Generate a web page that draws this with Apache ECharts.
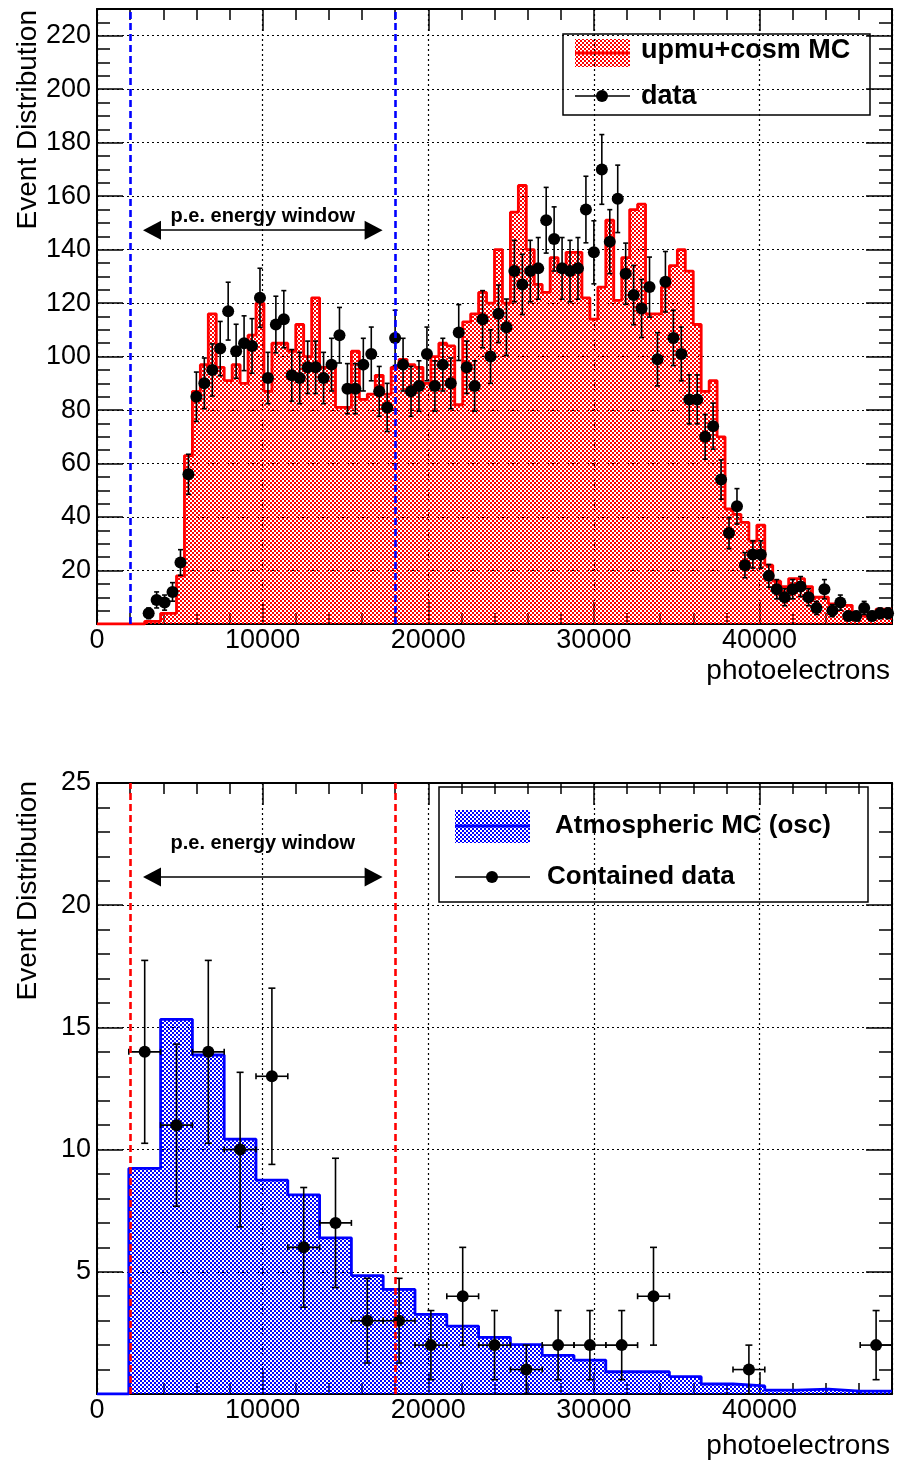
<!DOCTYPE html>
<html>
<head>
<meta charset="utf-8">
<script src="https://cdn.jsdelivr.net/npm/echarts@6/dist/echarts.min.js"></script>
<style>
html,body{margin:0;padding:0;background:#fff;}
#c{width:897px;height:1465px;}
</style>
</head>
<body>
<div id="c"></div>
<script>
// ---------------- data ----------------
const xMax = 48000;
const xTickLabels = [0, 10000, 20000, 30000, 40000];
const topYTickLabels = [20, 40, 60, 80, 100, 120, 140, 160, 180, 200, 220];
const botYTickLabels = [5, 10, 15, 20, 25];

// top panel: 100 bins of 480 p.e.
const mcTop = [
  0, 0, 0, 0, 0, 0, 1, 1, 4, 4,
  18, 63, 87, 97, 116, 96, 91, 97, 90, 108,
  120, 87, 105, 105, 102, 112, 100, 122, 96, 96,
  81, 81, 102, 84, 86, 93, 86, 96, 99, 97,
  96, 90, 100, 105, 104, 82, 113, 116, 124, 120,
  140, 120, 154, 164, 140, 127, 124, 137, 132, 139,
  139, 122, 114, 126, 151, 121, 137, 155, 157, 116,
  116, 126, 134, 140, 132, 112, 87, 91, 70, 43,
  41, 38, 31, 37, 22, 16, 14, 17, 17, 14,
  10, 10, 7.5, 7, 7, 3, 3, 3, 5.6, 5.6
];
const dataTop = [
  null, null, null, null, null, null, 4, 9, 8, 12,
  23, 56, 85, 90, 95, 103, 117, 102, 105, 104,
  122, 92, 112, 114, 93, 92, 96, 96, 92, 97,
  108, 88, 88, 97, 101, 87, 81, 107, 97, 87,
  89, 101, 89, 97, 90, 109, 96, 89, 114, 100,
  116, 111, 132, 127, 132, 133, 151, 144, 133, 132,
  133, 155, 139, 170, 143, 159, 131, 123, 118, 126,
  99, 128, 107, 101, 84, 84, 70, 74, 54, 34,
  44, 22, 26, 26, 18, 13, 10, 13, 14, 10,
  6, 13, 5, 8, 3, 3, 6, 3, 4, 4
];

// bottom panel: 25 bins of 1920 p.e.
const mcBot = [
  0, 9.23, 15.33, 13.87, 10.43, 8.75, 8.15, 6.39, 4.84, 4.28,
  3.26, 2.78, 2.32, 2.02, 1.58, 1.39, 0.91, 0.91, 0.71, 0.41,
  0.33, 0.16, 0.2, 0.12, 0.12
];
const dataBot = [
  null, 14, 11, 14, 10, 13, 6, 7, 3, 3,
  2, 4, 2, 1, 2, 2, 2, 4, null, null,
  1, null, null, null, 2
];

const windowEdges = [2000, 18000];
const windowLabel = 'p.e. energy window';
const topLegend = ['upmu+cosm MC', 'data'];
const botLegend = ['Atmospheric MC (osc)', 'Contained data'];
const yTitle = 'Event Distribution';
const xTitle = 'photoelectrons';

// arrow (annotation) in data units
const arrowXTop = [3320, 16700], arrowYTop = 147.3;
const arrowXBot = [3320, 16700], arrowYBot = 21.15;

// ---------------- helpers ----------------
const FONT = '"Liberation Sans", Arial, Helvetica, sans-serif';

function checker(color, cell) {
  const c = document.createElement('canvas');
  c.width = cell * 2; c.height = cell * 2;
  const g = c.getContext('2d');
  g.fillStyle = color;
  g.fillRect(0, 0, cell, cell);
  g.fillRect(cell, cell, cell, cell);
  return c;
}
const redPat = {image: checker('#ff0000', 2), repeat: 'repeat'};
const bluePat = {image: checker('#0000ff', 2), repeat: 'repeat'};

function histPoints(vals) {
  const w = xMax / vals.length;
  const pts = vals.map((v, i) => [i * w, v]);
  pts.push([xMax, vals[vals.length - 1]]);
  return pts;
}
function dataPoints(vals) {
  const w = xMax / vals.length;
  const out = [];
  vals.forEach((v, i) => { if (v !== null) out.push([i * w + w / 2, v]); });
  return out;
}
function errPoints(vals, withX) {
  const w = xMax / vals.length;
  const out = [];
  vals.forEach((v, i) => { if (v !== null) out.push([i * w + w / 2, v, Math.sqrt(v), withX ? w / 2 : 0]); });
  return out;
}
function errRender(capW, tickH) {
  return function (params, api) {
    const x = api.value(0), y = api.value(1), e = api.value(2), hw = api.value(3);
    const c = api.coord([x, y]);
    const lo = api.coord([x, Math.max(y - e, 0)]);
    const hi = api.coord([x, y + e]);
    const st = {stroke: '#000', lineWidth: 1.6};
    const ch = [
      {type: 'line', shape: {x1: c[0], y1: lo[1], x2: c[0], y2: hi[1]}, style: st},
      {type: 'line', shape: {x1: c[0] - capW, y1: lo[1], x2: c[0] + capW, y2: lo[1]}, style: st},
      {type: 'line', shape: {x1: c[0] - capW, y1: hi[1], x2: c[0] + capW, y2: hi[1]}, style: st}
    ];
    if (hw > 0) {
      const l = api.coord([x - hw, y]), r = api.coord([x + hw, y]);
      ch.push({type: 'line', shape: {x1: l[0], y1: c[1], x2: r[0], y2: c[1]}, style: st});
      ch.push({type: 'line', shape: {x1: l[0], y1: c[1] - tickH, x2: l[0], y2: c[1] + tickH}, style: st});
      ch.push({type: 'line', shape: {x1: r[0], y1: c[1] - tickH, x2: r[0], y2: c[1] + tickH}, style: st});
    }
    return {type: 'group', children: ch};
  };
}

function mkX(grid, pos, main) {
  return {
    type: 'value', gridIndex: grid, position: pos, min: 0, max: xMax, interval: 10000,
    axisLine: {show: true, onZero: false, lineStyle: {color: '#000', width: 2}},
    axisTick: {show: true, inside: true, length: 22, lineStyle: {color: '#000', width: 1.5}},
    minorTick: {show: true, splitNumber: 5, length: 11, lineStyle: {color: '#000', width: 1.5}},
    splitLine: {show: main, lineStyle: {color: '#000', type: [2, 3], width: 1.2}},
    minorSplitLine: {show: false},
    axisLabel: {
      show: main, color: '#000', fontSize: 27, fontFamily: FONT, margin: 3,
      formatter: v => (xTickLabels.indexOf(v) >= 0 ? String(v) : '')
    }
  };
}
function mkY(grid, pos, main, max, interval, split, labels) {
  return {
    type: 'value', gridIndex: grid, position: pos, min: 0, max: max, interval: interval,
    axisLine: {show: true, onZero: false, lineStyle: {color: '#000', width: 2}},
    axisTick: {show: true, inside: true, length: 26, lineStyle: {color: '#000', width: 1.5}},
    minorTick: {show: true, splitNumber: split, length: 13, lineStyle: {color: '#000', width: 1.5}},
    splitLine: {show: main, lineStyle: {color: '#000', type: [2, 3], width: 1.2}},
    minorSplitLine: {show: false},
    axisLabel: {
      show: main, color: '#000', fontSize: 27, fontFamily: FONT, margin: 6,
      formatter: v => (labels.indexOf(v) >= 0 ? String(v) : '')
    }
  };
}

function windowLines(color) {
  return {
    silent: true, animation: false, symbol: 'none',
    lineStyle: {color: color, type: [7, 4], width: 2.6, opacity: 1},
    label: {show: false},
    emphasis: {disabled: true},
    data: windowEdges.map(e => ({xAxis: e}))
  };
}
function arrowLine(xs, y, dist) {
  return {
    silent: true, animation: false, symbol: ['triangle', 'triangle'], symbolSize: [19, 18],
    itemStyle: {color: '#000'},
    lineStyle: {color: '#000', width: 1.6, type: 'solid', opacity: 1},
    label: {
      show: true, position: 'insideMiddleTop', distance: dist, formatter: windowLabel,
      fontSize: 20, fontWeight: 'bold', fontFamily: FONT, color: '#000'
    },
    emphasis: {disabled: true},
    data: [[{coord: [xs[0], y]}, {coord: [xs[1], y]}]]
  };
}

// ---------------- chart ----------------
const chart = echarts.init(document.getElementById('c'), null, {renderer: 'canvas'});

const option = {
  animation: false,
  backgroundColor: '#fff',
  textStyle: {fontFamily: FONT},
  grid: [
    {left: 97, top: 9, width: 795, height: 615},
    {left: 97, top: 783, width: 795, height: 611}
  ],
  xAxis: [mkX(0, 'bottom', true), mkX(1, 'bottom', true), mkX(0, 'top', false), mkX(1, 'top', false)],
  yAxis: [
    mkY(0, 'left', true, 230, 20, 4, topYTickLabels),
    mkY(1, 'left', true, 25, 5, 5, botYTickLabels),
    mkY(0, 'right', false, 230, 20, 4, topYTickLabels),
    mkY(1, 'right', false, 25, 5, 5, botYTickLabels)
  ],
  series: [
    {
      name: topLegend[0], type: 'line', xAxisIndex: 0, yAxisIndex: 0, step: 'end', symbol: 'none',
      data: histPoints(mcTop), z: 2,
      lineStyle: {color: '#ff0000', width: 2.8, opacity: 1},
      areaStyle: {color: redPat, opacity: 1},
      markLine: windowLines('#0000ff')
    },
    {
      type: 'custom', xAxisIndex: 0, yAxisIndex: 0, z: 3,
      data: errPoints(dataTop, false), renderItem: errRender(2.5, 0)
    },
    {
      name: topLegend[1], type: 'scatter', xAxisIndex: 0, yAxisIndex: 0, z: 4,
      symbol: 'circle', symbolSize: 12, itemStyle: {color: '#000', opacity: 1},
      data: dataPoints(dataTop),
      markLine: arrowLine(arrowXTop, arrowYTop, 4)
    },
    {
      name: botLegend[0], type: 'line', xAxisIndex: 1, yAxisIndex: 1, step: 'end', symbol: 'none',
      data: histPoints(mcBot), z: 2,
      lineStyle: {color: '#0000ff', width: 2.8, opacity: 1},
      areaStyle: {color: bluePat, opacity: 1},
      markLine: windowLines('#ff0000')
    },
    {
      type: 'custom', xAxisIndex: 1, yAxisIndex: 1, z: 3,
      data: errPoints(dataBot, true), renderItem: errRender(3.5, 3)
    },
    {
      name: botLegend[1], type: 'scatter', xAxisIndex: 1, yAxisIndex: 1, z: 4,
      symbol: 'circle', symbolSize: 12, itemStyle: {color: '#000', opacity: 1},
      data: dataPoints(dataBot),
      markLine: arrowLine(arrowXBot, arrowYBot, 24)
    }
  ],
  graphic: [
    // axis titles
    {type: 'text', x: 28, y: 10, rotation: Math.PI / 2,
     style: {text: yTitle, fontSize: 28, fontFamily: FONT, fill: '#000', align: 'right', verticalAlign: 'middle'}},
    {type: 'text', x: 28, y: 781, rotation: Math.PI / 2,
     style: {text: yTitle, fontSize: 28, fontFamily: FONT, fill: '#000', align: 'right', verticalAlign: 'middle'}},
    {type: 'text', x: 890, y: 671,
     style: {text: xTitle, fontSize: 28, fontFamily: FONT, fill: '#000', align: 'right', verticalAlign: 'middle'}},
    {type: 'text', x: 890, y: 1446,
     style: {text: xTitle, fontSize: 28, fontFamily: FONT, fill: '#000', align: 'right', verticalAlign: 'middle'}},
    // top legend
    {type: 'group', z: 100, children: [
      {type: 'rect', shape: {x: 563, y: 34, width: 307, height: 81}, style: {fill: '#fff', stroke: '#000', lineWidth: 1.5}},
      {type: 'rect', shape: {x: 575, y: 39, width: 55, height: 28}, style: {fill: redPat}},
      {type: 'line', shape: {x1: 575, y1: 53, x2: 630, y2: 53}, style: {stroke: '#ff0000', lineWidth: 3}},
      {type: 'text', x: 641, y: 51, style: {text: topLegend[0], fontSize: 27, fontWeight: 'bold', fontFamily: FONT, fill: '#000', verticalAlign: 'middle'}},
      {type: 'line', shape: {x1: 575, y1: 96, x2: 630, y2: 96}, style: {stroke: '#000', lineWidth: 1.5}},
      {type: 'circle', shape: {cx: 602, cy: 96, r: 6}, style: {fill: '#000'}},
      {type: 'text', x: 641, y: 97, style: {text: topLegend[1], fontSize: 27, fontWeight: 'bold', fontFamily: FONT, fill: '#000', verticalAlign: 'middle'}}
    ]},
    // bottom legend
    {type: 'group', z: 100, children: [
      {type: 'rect', shape: {x: 439, y: 787, width: 429, height: 115}, style: {fill: '#fff', stroke: '#000', lineWidth: 1.5}},
      {type: 'rect', shape: {x: 455, y: 810, width: 75, height: 33}, style: {fill: bluePat}},
      {type: 'line', shape: {x1: 455, y1: 826, x2: 530, y2: 826}, style: {stroke: '#0000ff', lineWidth: 3}},
      {type: 'text', x: 555, y: 826, style: {text: botLegend[0], fontSize: 26, fontWeight: 'bold', fontFamily: FONT, fill: '#000', verticalAlign: 'middle'}},
      {type: 'line', shape: {x1: 455, y1: 877, x2: 530, y2: 877}, style: {stroke: '#000', lineWidth: 1.5}},
      {type: 'circle', shape: {cx: 492, cy: 877, r: 6}, style: {fill: '#000'}},
      {type: 'text', x: 547, y: 877, style: {text: botLegend[1], fontSize: 26, fontWeight: 'bold', fontFamily: FONT, fill: '#000', verticalAlign: 'middle'}}
    ]}
  ]
};
chart.setOption(option);
</script>
</body>
</html>
